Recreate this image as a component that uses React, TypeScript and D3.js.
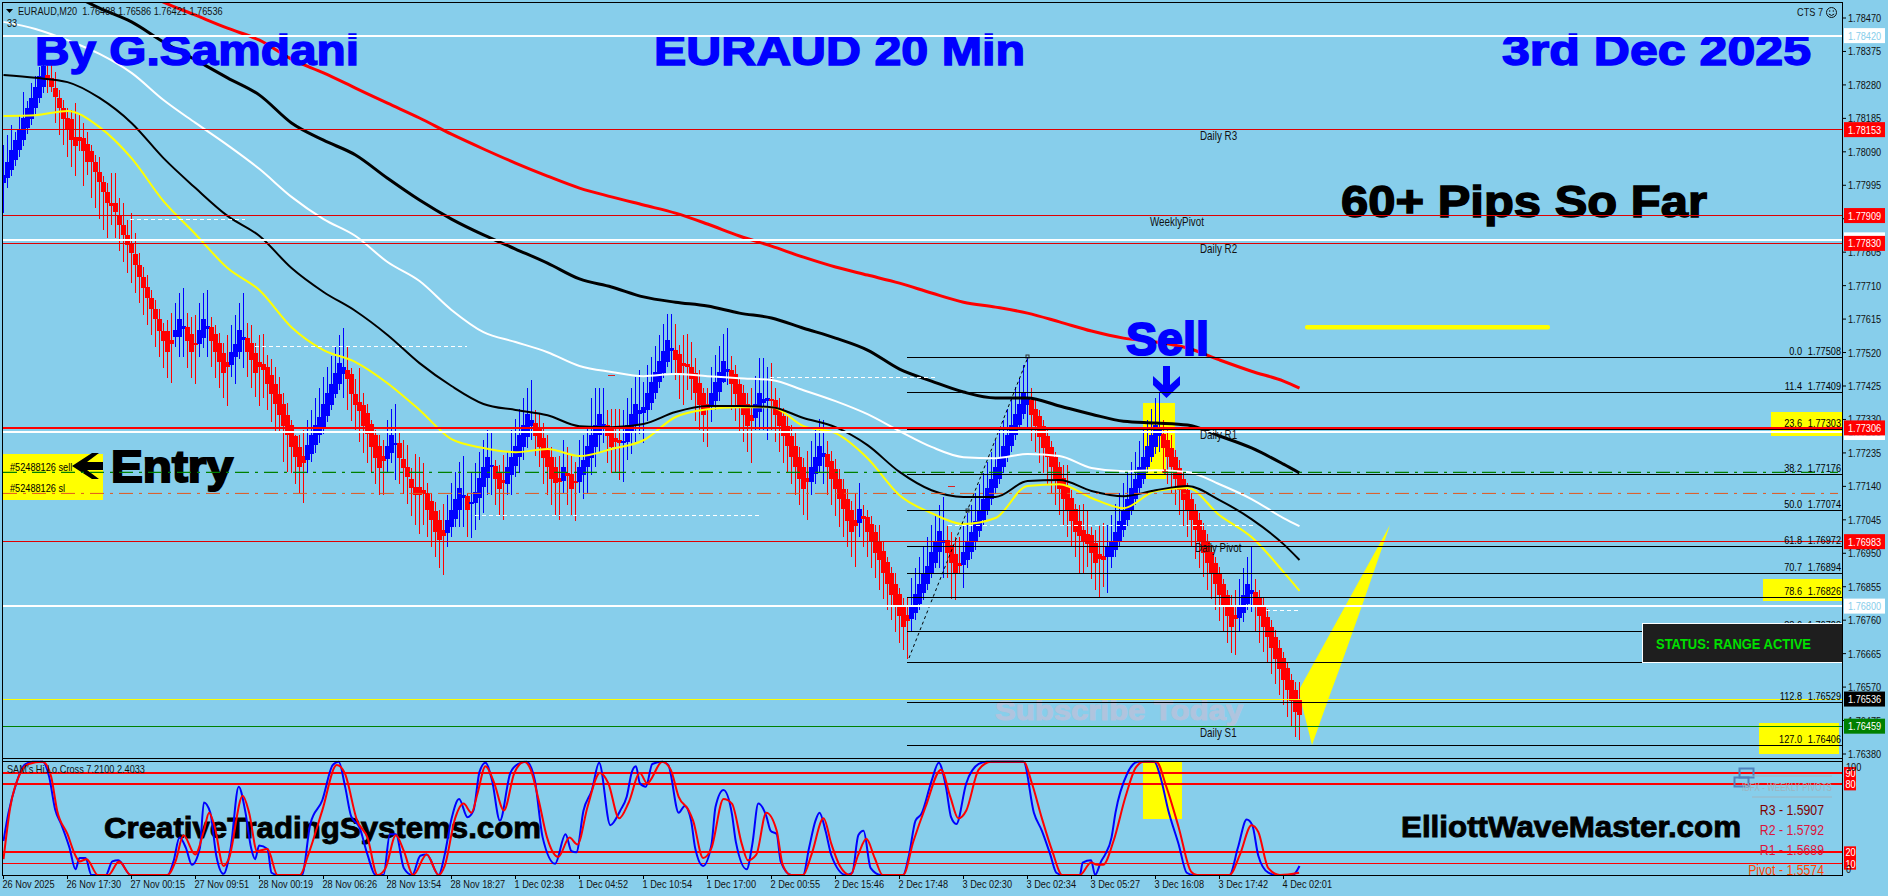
import React from "react";
import * as d3 from "d3";

// All candle prices are in points above 1.70000 (8110 = 1.78110)
const highs = [
8110,8138,8166,8147,8195,8261,8233,8285,8304,8332,8337,8351,8342,8318,8266,8237,8214,8209,8228,8195,
8171,8147,8110,8081,8074,8021,8001,8029,8029,7958,7944,7896,7915,7859,7802,7764,7740,7698,7669,7645,
7603,7612,7631,7660,7688,7702,7631,7622,7627,7660,7688,7699,7622,7598,7575,7546,7570,7598,7627,7660,
7688,7603,7598,7546,7570,7573,7513,7503,7480,7451,7404,7376,7328,7286,7286,7300,7328,7357,7390,7418,
7451,7480,7510,7536,7570,7591,7536,7475,7446,7475,7404,7375,7328,7300,7285,7271,7328,7361,7374,7295,
7271,7257,7191,7231,7224,7205,7150,7120,7096,7072,7089,7115,7150,7181,7210,7226,7120,7181,7205,7238,
7271,7300,7298,7216,7200,7229,7238,7300,7330,7361,7390,7418,7442,7358,7345,7320,7285,7252,7224,7226,
7271,7252,7226,7210,7271,7285,7302,7390,7418,7418,7418,7358,7361,7361,7361,7356,7390,7418,7451,7470,
7437,7485,7508,7539,7570,7601,7630,7630,7601,7542,7570,7573,7551,7504,7471,7418,7418,7480,7513,7539,
7573,7589,7510,7485,7447,7428,7404,7418,7452,7504,7504,7480,7489,7418,7390,7362,7343,7314,7291,7253,
7220,7241,7270,7300,7330,7328,7270,7241,7217,7188,7160,7132,7099,7120,7149,7087,7073,7056,7030,7030,
6983,6940,6912,6893,6850,6822,6827,6879,6907,6938,6969,6997,7030,7061,7087,7109,7027,7011,6997,6997,
7030,7063,7087,7120,7148,7178,7210,7238,7271,7302,7328,7361,7390,7421,7449,7484,7508,7418,7387,7357,
7328,7300,7269,7238,7210,7200,7200,7131,7091,7087,7091,7072,7025,7016,7027,7035,7030,7058,7091,7120,
7150,7178,7210,7238,7269,7300,7328,7361,7390,7404,7328,7304,7285,7243,7214,7181,7150,7120,7091,7063,
7035,7006,6973,6940,6911,6878,6847,6831,6847,6878,6907,6938,6968,6878,6847,6826,6793,6760,6732,6703,
6670,6639,6608,6585,6585];

const bodyHigh = [
8024,8062,8095,8124,8152,8185,8214,8242,8273,8304,8334,8308,8299,8271,8242,8214,8185,8182,8133,8131,
8128,8112,8091,8062,8034,8005,7975,7944,7944,7911,7882,7854,7830,7800,7769,7735,7705,7674,7643,7614,
7582,7582,7556,7584,7614,7595,7593,7573,7548,7584,7614,7595,7593,7573,7548,7520,7493,7522,7544,7584,
7563,7560,7546,7520,7493,7487,7478,7455,7431,7401,7373,7342,7314,7283,7252,7226,7257,7286,7314,7336,
7374,7404,7432,7463,7489,7478,7470,7459,7402,7379,7371,7347,7317,7285,7254,7226,7254,7285,7264,7262,
7219,7194,7162,7139,7139,7131,7122,7098,7070,7044,7017,7044,7074,7103,7134,7115,7112,7097,7124,7163,
7194,7222,7201,7197,7181,7158,7194,7224,7254,7285,7314,7345,7328,7319,7307,7276,7250,7224,7194,7164,
7196,7177,7175,7156,7196,7214,7254,7285,7314,7345,7317,7314,7307,7276,7273,7269,7314,7345,7374,7357,
7364,7404,7435,7465,7496,7525,7556,7533,7527,7516,7489,7487,7478,7461,7433,7404,7374,7404,7435,7465,
7496,7474,7471,7459,7431,7404,7374,7343,7374,7404,7387,7391,7387,7385,7359,7340,7311,7283,7255,7222,
7194,7165,7194,7224,7255,7234,7232,7213,7188,7160,7132,7103,7073,7044,7075,7056,7052,7033,7011,6983,
6957,6926,6893,6864,6834,6803,6775,6798,6834,6864,6893,6914,6954,6983,7014,6988,6989,6973,6948,6921,
6954,6982,7011,7042,7072,7103,7134,7162,7194,7224,7254,7286,7314,7345,7375,7406,7389,7385,7361,7339,
7311,7283,7252,7222,7196,7165,7137,7108,7077,7042,7016,7006,7001,6978,6949,6942,6968,6982,7011,7042,
7072,7103,7134,7162,7194,7224,7254,7286,7314,7300,7290,7273,7248,7222,7191,7162,7131,7103,7074,7044,
7016,6985,6954,6923,6894,6864,6831,6800,6774,6798,6831,6864,6847,6840,6826,6798,6769,6741,6713,6682,
6654,6623,6591,6563,6533];

const bodyLow = [
8001,8015,8038,8067,8095,8124,8157,8182,8214,8242,8273,8294,8273,8245,8214,8182,8154,8124,8107,8122,
8092,8062,8062,8033,8004,7977,7944,7936,7920,7882,7854,7824,7804,7770,7734,7704,7674,7643,7614,7582,
7554,7522,7543,7563,7565,7588,7554,7522,7542,7544,7560,7588,7554,7522,7494,7463,7480,7484,7508,7522,
7556,7522,7499,7463,7480,7470,7432,7402,7373,7344,7311,7286,7252,7224,7196,7207,7215,7231,7257,7286,
7309,7339,7371,7402,7432,7459,7444,7402,7371,7355,7311,7288,7252,7220,7193,7213,7218,7235,7257,7221,
7193,7167,7134,7115,7115,7118,7072,7044,7011,6989,7000,7008,7025,7046,7074,7106,7072,7091,7093,7108,
7137,7165,7194,7161,7132,7150,7146,7172,7197,7224,7252,7281,7311,7283,7252,7221,7194,7162,7150,7152,
7156,7170,7133,7150,7153,7173,7194,7221,7252,7285,7311,7283,7252,7267,7262,7265,7267,7295,7314,7345,
7347,7357,7378,7404,7435,7463,7494,7524,7499,7463,7482,7478,7444,7404,7371,7343,7359,7366,7381,7409,
7435,7465,7431,7402,7371,7343,7311,7327,7333,7352,7378,7383,7383,7343,7311,7283,7255,7222,7194,7160,
7132,7153,7153,7175,7198,7224,7194,7160,7132,7103,7075,7042,7011,7027,7037,7048,7011,6983,6952,6931,
6893,6864,6831,6803,6772,6741,6758,6762,6781,6806,6836,6863,6893,6923,6954,6978,6952,6921,6893,6914,
6917,6932,6954,6985,7014,7044,7074,7103,7134,7162,7194,7224,7254,7285,7314,7345,7371,7342,7311,7281,
7250,7222,7194,7162,7133,7103,7074,7042,7011,7000,6985,6976,6951,6921,6935,6932,6938,6940,6959,6985,
7016,7044,7074,7103,7134,7162,7194,7224,7252,7283,7250,7224,7194,7162,7131,7101,7074,7044,7016,6982,
6951,6923,6893,6862,6831,6800,6771,6741,6762,6767,6779,6807,6834,6800,6771,6741,6713,6682,6651,6620,
6589,6561,6531,6500,6490];

const lows = [
7917,7986,8020,8050,8076,8107,8141,8166,8198,8228,8258,8256,8261,8171,8138,8110,8076,8048,8020,8091,
7993,8024,7958,7930,7898,7868,7844,7882,7844,7809,7778,7747,7718,7688,7660,7627,7598,7570,7537,7508,
7475,7447,7434,7537,7508,7508,7475,7447,7432,7508,7532,7508,7478,7447,7418,7390,7369,7451,7432,7503,
7475,7451,7418,7395,7369,7390,7357,7324,7298,7295,7210,7181,7177,7146,7120,7092,7179,7210,7234,7262,
7290,7323,7356,7390,7415,7390,7356,7326,7300,7267,7235,7207,7178,7148,7115,7115,7181,7205,7158,7146,
7118,7089,7055,7030,7006,7030,6997,6968,6938,6907,6888,6968,6997,7025,7025,7025,6997,6993,7017,7044,
7063,7115,7115,7087,7058,7044,7115,7115,7167,7178,7214,7248,7271,7226,7196,7146,7115,7087,7058,7044,
7120,7087,7058,7042,7120,7104,7120,7172,7196,7238,7262,7205,7177,7177,7158,7153,7214,7233,7267,7290,
7262,7327,7357,7387,7418,7447,7480,7463,7442,7387,7371,7414,7385,7327,7300,7267,7253,7324,7357,7383,
7433,7428,7357,7327,7298,7267,7239,7207,7300,7300,7300,7272,7300,7267,7239,7207,7177,7147,7115,7087,
7059,7044,7115,7147,7177,7147,7115,7087,7056,7025,6997,6969,6938,6912,6997,6969,6938,6907,6879,6847,
6819,6789,6760,6727,6696,6675,6649,6727,6760,6789,6817,6847,6879,6907,6907,6879,6879,6819,6817,6893,
6850,6907,6935,6959,6997,7027,7058,7087,7118,7148,7178,7210,7238,7271,7300,7330,7300,7269,7238,7207,
7177,7148,7118,7087,7058,7030,6997,6968,6940,6893,6891,6911,6878,6847,6824,6853,6838,6907,6940,6968,
6997,7027,7058,7087,7118,7148,7177,7210,7233,7238,7177,7148,7120,7087,7058,7027,6997,6968,6935,6907,
6883,6847,6819,6788,6758,6727,6696,6667,6660,6727,6755,6788,6784,6727,6696,6670,6637,6607,6578,6547,
6518,6485,6457,6428,6419];

// Alternating runs of rising / falling bars, beginning with rising
const directionRuns = [11,32,3,3,3,5,4,15,10,10,3,12,5,1,6,3,7,7,1,3,7,4,13,9,5,6,4,10,4,8,1,12,9,4,17,19,14,19,4,12];

// Moving averages, one reading every 8 bars and the last bar
const ma200Red = [8564,8515,8478,8441,8407,8353,8314,8271,8228,8186,8140,8098,8058,8021,7987,7962,7939,7916,7885,7851,7822,7791,7763,7740,7717,7689,7663,7649,7632,7607,7581,7561,7550,7533,7499,7467,7439,7419];
const maLongBlack = [8544,8498,8459,8402,8351,8300,8251,8172,8123,8081,8015,7953,7899,7854,7814,7774,7729,7706,7678,7663,7652,7632,7618,7589,7561,7527,7473,7439,7408,7391,7391,7368,7345,7325,7320,7314,7283,7249,7203,7178];
const maWhite = [8459,8439,8407,8368,8314,8237,8172,8109,8041,7962,7899,7851,7777,7723,7641,7578,7550,7521,7482,7465,7453,7459,7453,7447,7442,7413,7382,7345,7297,7252,7223,7220,7232,7226,7192,7183,7186,7181,7146,7104,7050,7027];
const maShortBlack = [8308,8300,8288,8243,8172,8072,7987,7908,7851,7760,7692,7638,7570,7490,7425,7374,7357,7342,7311,7308,7317,7351,7368,7368,7365,7334,7308,7257,7181,7129,7110,7110,7155,7158,7127,7112,7129,7141,7101,7047,6976,6931];
const maYellow = [8192,8194,8206,8160,8072,7950,7856,7760,7697,7592,7527,7493,7433,7357,7274,7249,7237,7246,7226,7246,7271,7337,7359,7365,7365,7311,7291,7220,7115,7064,7033,7050,7141,7146,7107,7078,7127,7135,7058,6996,6897,6843];

// Oscillator: bar index and value of each turning point
const stochBlueBars = [0,1.2,3.2,5.2,7.3,9.8,11.4,12.9,14.4,16.5,18,19,20.5,22,25.6,27.2,28.7,31.8,41,42.5,44,45.6,47.1,49.1,50.1,51.7,53.2,55,56.8,58.8,60.4,61.9,62.9,63.9,66,67,68.5,74.6,76.7,79.7,82.3,83.8,85.4,86.9,89,91,93,95,96.6,98.1,100.1,102.2,104.2,105.8,108.8,110.3,111.9,113.9,116,117.5,119,120.5,122.1,124.1,126.7,128.7,130.8,132.8,134.8,137.9,140.5,142,143.2,145,147.1,148.9,151.7,154.2,155.8,157.1,158.1,159.1,160.6,162.2,164.7,166.2,168.8,170.3,171.9,172.9,174.9,177,178,180,182.1,183.1,185.8,187.2,188.7,190.7,191.8,193.3,194.3,196.9,199.9,201.4,203,204,205.5,207,210.6,212.2,213.7,215,216.8,219.3,224.9,226.4,228,229.5,232.1,233.8,235.6,236.9,238.2,240.7,243.8,245.8,255,257.6,259.6,261.7,263.2,264.7,269.1,269.8,271.9,272.9,274.4,275.4,277,278,281,283.6,287.7,289.2,291.2,293.8,295.8,297.4,306.5,308.6,310.8,312.2,313.7,316.2,318.3,322.3,324];
const stochBlueVals = [30,54,81,97,100,100,87,58,45,24,5,15,15,0,0,12,13,0,0,12,33,24,9,24,64,55,17,1,24,78,57,24,14,26,23,2,0,0,45,66,97,100,78,52,42,18,0,0,36,36,6,0,17,18,0,18,48,67,51,57,91,99,84,48,90,98,100,84,33,10,36,21,20,57,75,99,44,57,69,91,96,81,78,98,100,97,55,61,48,24,8,27,60,75,54,29,5,27,63,52,39,36,12,0,0,24,48,55,39,17,0,2,35,39,6,0,0,18,48,54,84,99,78,51,45,81,98,100,100,55,39,18,2,0,0,11,13,0,12,18,33,55,90,100,100,87,57,27,2,0,0,24,49,44,17,2,0,0,8];
const stochRedBars = [0,1.7,4.2,6.3,9.8,11.9,13.4,16,18,19,20.8,23.6,26.2,28.9,31.8,41,43,45,47.9,50.1,51.4,52.7,55,56.3,59.8,61.4,63.4,66,68.5,74.1,76.2,79.7,83.3,85.3,88.4,91,93.5,95.5,98.1,100.1,102.4,105.8,108.8,110.3,112.9,115,117,118.5,120.5,122.6,125.1,127.7,130.2,131.8,133.8,135.9,138.7,141.5,143.5,146,149.1,151.2,153.9,156.3,159.1,160.9,164.7,166.8,168.8,171.3,172.4,174.9,177,180,182.1,184.6,186.1,188.2,190.7,193.3,194.8,196.9,199.9,202,205,207,209.1,211.7,213.7,215.7,217.8,219.8,224.9,227.5,230.5,234.4,236.7,238.7,240.7,243.8,246.9,255,257.1,259.6,262.2,264.7,269.1,271.9,273.4,274.9,277.5,280.5,283.1,285.1,288.2,290.7,293.8,296.9,298.4,306.5,309.1,312,313.7,316.2,319.1,323.9];
const stochRedVals = [14,60,90,98,100,87,57,36,17,12,14,0,0,12,0,0,12,35,18,39,55,44,8,14,70,55,21,23,0,0,18,57,97,90,48,33,0,6,35,21,0,18,0,8,50,63,55,72,96,82,57,90,100,93,66,33,16,33,27,60,90,81,50,64,90,81,100,93,69,57,48,15,24,67,63,27,13,18,55,39,9,0,0,18,50,27,8,0,18,32,15,0,0,30,60,93,69,50,57,93,100,100,81,50,21,0,0,11,9,9,30,69,95,100,100,78,42,3,0,0,18,44,38,6,0,2];

const priceTicks = ["1.78470","1.78375","1.78280","1.78185","1.78090","1.77995","1.77900","1.77805","1.77710","1.77615","1.77520","1.77425","1.77330","1.77235","1.77140","1.77045","1.76950","1.76855","1.76760","1.76665","1.76570","1.76475","1.76380"];
const timeTicks = ["26 Nov 2025","26 Nov 17:30","27 Nov 00:15","27 Nov 09:51","28 Nov 00:19","28 Nov 06:26","28 Nov 13:54","28 Nov 18:27","1 Dec 02:38","1 Dec 04:52","1 Dec 10:54","1 Dec 17:00","2 Dec 00:55","2 Dec 15:46","2 Dec 17:48","3 Dec 02:30","3 Dec 02:34","3 Dec 05:27","3 Dec 16:08","3 Dec 17:42","4 Dec 02:01"];
const fibLevels = ["0.0","11.4","23.6","38.2","50.0","61.8","70.7","78.6","88.6","100.0","112.8","127.0"];
const fibPrices = ["1.77508","1.77409","1.77303","1.77176","1.77074","1.76972","1.76894","1.76826","1.76728","1.76640","1.76529","1.76406"];
const pivotNames = ["Daily R3","WeeklyPivot","Daily R2","Daily R1","Daily Pivot","Daily S1"];
const pivotPrices = [1.78135,1.77891,1.77814,1.77286,1.76965,1.7644];
const weeklyPivots = ["R3 - 1.5907","R2 - 1.5792","R1 - 1.5689","Pivot - 1.5574"];
const redLevelPrices = [1.78153,1.77909,1.7783,1.76983];
const whiteLevelPrices = [1.7842,1.7784,1.77293,1.768];
const stochLevels = [90,80,20,10];

const SKY = "#87CEEB";
const NUM = "'Liberation Sans', Arial, sans-serif";
const W = 1888, H = 896;
const axisX = 1842;

const y = d3.scaleLinear().domain([1.7638, 1.7847]).range([754, 18]);
const yp = (p: number) => y(1.7 + p / 100000);
const x = d3.scaleLinear().domain([0, 324]).range([3.5, 1299.5]);
const ys = d3.scaleLinear().domain([0, 100]).range([875, 761.7]);

const rising: boolean[] = [];
directionRuns.forEach((n, k) => { for (let j = 0; j < n; j++) rising.push(k % 2 === 0); });

function maBars(start: number): number[] {
  return [...d3.range(start, 321, 8), 324];
}
const maPath = (vals: number[], start: number) => {
  const bars = maBars(start);
  return d3.line<number>().x((_, i) => x(bars[i])).y((v) => yp(v)).curve(d3.curveMonotoneX)(vals) || "";
};
const stochPath = (bars: number[], vals: number[]) =>
  d3.line<number>().x((b) => x(b)).y((_, i) => ys(vals[i])).curve(d3.curveMonotoneX)(bars) || "";

function Big(p: { x: number; y: number; len: number; size: number; fill: string; children: string; heavy?: number }) {
  return (
    <text x={p.x} y={p.y} textLength={p.len} lengthAdjust="spacingAndGlyphs" fontFamily="'Liberation Sans', Arial, sans-serif"
      fontWeight="bold" fontSize={p.size} fill={p.fill} stroke={p.fill} strokeWidth={p.heavy ?? 1.4}>{p.children}</text>
  );
}
function Small(p: { x: number; y: number; anchor?: string; fill?: string; size?: number; sx?: number; children: any }) {
  return (
    <text transform={`translate(${p.x} ${p.y}) scale(${p.sx ?? 0.82} 1)`} textAnchor={p.anchor as any} fontFamily={NUM} fontSize={p.size ?? 11.2} fill={p.fill ?? "#000"}>{p.children}</text>
  );
}
function PriceTag(p: { price: number; label: string; bg: string; fg: string }) {
  const c = y(p.price);
  return (
    <g>
      <rect x={1844} y={c - 7.5} width={41} height={15} fill={p.bg} />
      <Small x={1848} y={c + 4} fill={p.fg}>{p.label}</Small>
    </g>
  );
}

export default function App() {
  const midX = (i: number) => Math.round(x(i) - 0.5);
  return (
    <svg width={W} height={H} viewBox={`0 0 ${W} ${H}`} style={{ position: "absolute", left: 0, top: 0, display: "block", background: SKY }}>
      <defs>
        <clipPath id="mainPane"><rect x={3} y={3} width={axisX - 3} height={755} /></clipPath>
      </defs>

      {/* yellow zones */}
      <rect x={2} y={454} width={101} height={46} fill="#FFFF00" />
      <rect x={1143} y={403} width={32} height={47} fill="#FFFF00" />
      <rect x={1145} y={450} width={21} height={29} fill="#FFFF00" />
      <rect x={1143} y={761} width={39} height={58} fill="#FFFF00" />
      <rect x={1771} y={412} width={71} height={24} fill="#FFFF00" />
      <rect x={1763} y={579} width={79} height={22} fill="#FFFF00" />
      <rect x={1759} y={723} width={80} height={31} fill="#FFFF00" />
      <rect x={1305} y={325} width={245} height={4.5} rx={2} fill="#FFFF00" />
      <path d="M1300 688 L1390 525 L1364 600 L1342 662 L1328 700 L1312 745 L1300 697 Z" fill="#FFFF00" />

      {/* candles */}
      <g clipPath="url(#mainPane)" shapeRendering="crispEdges">
        {highs.map((h, i) => {
          const c = rising[i] ? "#0000FF" : "#FF0000";
          const top = yp(bodyHigh[i]);
          const bot = yp(bodyLow[i]);
          return (
            <g key={i}>
              <rect x={midX(i)} y={yp(h)} width={1} height={yp(lows[i]) - yp(h)} fill={c} />
              <rect x={midX(i) - 2} y={top} width={5} height={Math.max(2, bot - top)} fill={c} />
            </g>
          );
        })}
      </g>

      {/* moving averages */}
      <g clipPath="url(#mainPane)" fill="none" strokeLinejoin="round">
        <path d={maPath(maYellow, 0)} stroke="#FFFF00" strokeWidth={2} />
        <path d={maPath(maShortBlack, 0)} stroke="#000" strokeWidth={2} />
        <path d={maPath(maWhite, 0)} stroke="#FFF" strokeWidth={2} />
        <path d={maPath(maLongBlack, 16)} stroke="#000" strokeWidth={3} />
        <path d={maPath(ma200Red, 32)} stroke="#FF0000" strokeWidth={3} />
      </g>

      {/* short dashed levels */}
      <g stroke="#FFF" strokeWidth={1} strokeDasharray="4 3" shapeRendering="crispEdges">
        <line x1={130} x2={245} y1={219.5} y2={219.5} />
        <line x1={255} x2={467} y1={346.5} y2={346.5} />
        <line x1={475} x2={760} y1={515.5} y2={515.5} />
        <line x1={770} x2={936} y1={377.5} y2={377.5} />
        <line x1={948} x2={1256} y1={525.5} y2={525.5} />
        <line x1={1266} x2={1299} y1={610.5} y2={610.5} />
      </g>
      <line x1={608} x2={615} y1={375.5} y2={375.5} stroke="#D22" />
      <line x1={948} x2={955} y1={486.5} y2={486.5} stroke="#D22" />

      {/* fib anchor line */}
      <line x1={909} y1={658} x2={1028} y2={357} stroke="#000" strokeWidth={1} strokeDasharray="3 3" />
      <rect x={1026} y={355} width={3} height={3} fill="none" stroke="#333" />
      <rect x={966} y={509} width={3} height={3} fill="none" stroke="#333" />

      {/* large captions */}
      <Big x={35} y={65} len={324} size={42} fill="#0000FF">By G.Samdani</Big>
      <Big x={654} y={65} len={371} size={42} fill="#0000FF">EURAUD 20 Min</Big>
      <Big x={1502} y={65} len={309} size={42} fill="#0000FF">3rd Dec 2025</Big>
      <Big x={1341} y={217} len={366} size={44} fill="#000">60+ Pips So Far</Big>
      <Big x={1126} y={355} len={83} size={46} fill="#0000FF" heavy={2}>Sell</Big>
      <Big x={111} y={482} len={122} size={44} fill="#000" heavy={2}>Entry</Big>
      <Big x={995} y={720} len={248} size={28} fill="#B0C4DE" heavy={1}>Subscribe Today</Big>

      <path d="M72 466 L92 453 L99 453 L87 462 L103 462 L103 470 L87 470 L99 479 L92 479 Z" fill="#000" />
      <path d="M1163 366 L1170 366 L1170 385 L1180 376 L1180 385 L1166.5 398 L1153 385 L1153 376 L1163 385 Z" fill="#0000FF" />
      <path d="M1165 469 v6 M1162 472 h6" stroke="#F00" strokeWidth={1.5} />

      <Small x={10} y={471}>#52488126 sell</Small>
      <Small x={10} y={492}>#52488126 sl</Small>

      {/* horizontal levels */}
      <g shapeRendering="crispEdges">
        {fibPrices.map((p) => (
          <line key={p} x1={907} x2={axisX} y1={y(+p) + 0.5} y2={y(+p) + 0.5} stroke="#000" strokeWidth={1} />
        ))}
        {redLevelPrices.map((p) => (
          <line key={p} x1={3} x2={axisX} y1={y(p)} y2={y(p)} stroke="#E00000" strokeWidth={1} />
        ))}
        <line x1={3} x2={axisX} y1={y(1.77306)} y2={y(1.77306)} stroke="#FF0000" strokeWidth={2} />
        {whiteLevelPrices.map((p) => (
          <line key={p} x1={3} x2={axisX} y1={y(p)} y2={y(p)} stroke="#FFF" strokeWidth={2} />
        ))}
        <line x1={3} x2={axisX} y1={y(1.76536)} y2={y(1.76536)} stroke="#FFFF00" strokeWidth={1} />
        <line x1={3} x2={axisX} y1={y(1.76459)} y2={y(1.76459)} stroke="#008000" strokeWidth={1} />
      </g>
      <line x1={3} x2={1838} y1={y(1.7718)} y2={y(1.7718)} stroke="#008000" strokeWidth={1.2} strokeDasharray="14 6 3 6" />
      <line x1={3} x2={1838} y1={y(1.7712)} y2={y(1.7712)} stroke="#E2571E" strokeWidth={1} strokeDasharray="14 6 3 6" />

      {/* pivot names */}
      {pivotNames.map((n, i) => (
        <Small key={n} x={n === "WeeklyPivot" ? 1150 : n === "Daily Pivot" ? 1195 : 1200} y={y(pivotPrices[i]) + 4} fill="#111" size={12}>{n}</Small>
      ))}

      {/* fib captions */}
      {fibLevels.map((l, i) => (
        <g key={l}>
          <Small x={1802} y={y(+fibPrices[i]) - 2} anchor="end">{l}</Small>
          <Small x={1841} y={y(+fibPrices[i]) - 2} anchor="end">{fibPrices[i]}</Small>
        </g>
      ))}

      {/* status panel */}
      <rect x={1642.5} y={623.5} width={200} height={39} fill="#1E1E1E" stroke="#FFF" strokeWidth={1} />
      <text x={1656} y={649} textLength={155} lengthAdjust="spacingAndGlyphs" fontFamily="'Liberation Sans', Arial, sans-serif" fontWeight="bold" fontSize={14} fill="#00E000">STATUS: RANGE ACTIVE</text>

      {/* chart header */}
      <path d="M6 9 L13 9 L9.5 13 Z" fill="#000" />
      <Small x={18} y={15} fill="#111">{"EURAUD,M20\u00A0\u00A01.76488 1.76586 1.76421 1.76536"}</Small>
      <Small x={7} y={27} fill="#111">33</Small>
      <Small x={1797} y={16} fill="#111">CTS 7</Small>
      <circle cx={1831.5} cy={12.5} r={5} fill="none" stroke="#111" />
      <circle cx={1829.7} cy={11} r={0.7} fill="#111" />
      <circle cx={1833.3} cy={11} r={0.7} fill="#111" />
      <path d="M1828.8 14 Q1831.5 17 1834.2 14" fill="none" stroke="#111" />

      {/* price axis */}
      {priceTicks.map((t) => (
        <g key={t}>
          <line x1={axisX} x2={axisX + 4} y1={y(+t)} y2={y(+t)} stroke="#000" />
          <Small x={1848} y={y(+t) + 4} fill="#111">{t}</Small>
        </g>
      ))}
      <PriceTag price={1.7842} label="1.78420" bg="#FFF" fg="#87CEEB" />
      <PriceTag price={1.78153} label="1.78153" bg="#FF0000" fg="#FFF" />
      <PriceTag price={1.77909} label="1.77909" bg="#FF0000" fg="#FFF" />
      <PriceTag price={1.7784} label="1.77840" bg="#FFF" fg="#87CEEB" />
      <PriceTag price={1.7783} label="1.77830" bg="#FF0000" fg="#FFF" />
      <PriceTag price={1.77293} label="1.77293" bg="#FFF" fg="#87CEEB" />
      <PriceTag price={1.77306} label="1.77306" bg="#FF0000" fg="#FFF" />
      <PriceTag price={1.76983} label="1.76983" bg="#FF0000" fg="#FFF" />
      <PriceTag price={1.768} label="1.76800" bg="#FFF" fg="#87CEEB" />
      <PriceTag price={1.76536} label="1.76536" bg="#000" fg="#FFF" />
      <PriceTag price={1.76459} label="1.76459" bg="#008000" fg="#FFF" />

      {/* oscillator pane */}
      <Big x={104} y={838} len={437} size={30} fill="#000" heavy={0.9}>CreativeTradingSystems.com</Big>
      <g shapeRendering="crispEdges">
        {stochLevels.map((v) => (
          <line key={v} x1={3} x2={axisX} y1={ys(v)} y2={ys(v)} stroke="#FF0000" strokeWidth={v === 80 || v === 20 ? 2 : 1.5} />
        ))}
      </g>
      <path d={stochPath(stochBlueBars, stochBlueVals)} fill="none" stroke="#0000FF" strokeWidth={2} />
      <path d={stochPath(stochRedBars, stochRedVals)} fill="none" stroke="#FF0000" strokeWidth={2} />
      <Small x={7} y={773} fill="#111">SAM's Hi.Lo.Cross 7.2100 2.4033</Small>

      <Big x={1401} y={837} len={340} size={30} fill="#000" heavy={0.9}>ElliottWaveMaster.com</Big>

      {/* weekly pivots block */}
      <rect x={1739.5} y={768.5} width={14} height={9} fill="none" stroke="#4F81BD" strokeWidth={2} />
      <rect x={1734.5} y={777.5} width={14} height={9} fill="none" stroke="#4F81BD" strokeWidth={2} />
      <line x1={1752} x2={1832} y1={776} y2={776} stroke="#9DB4C0" />
      <line x1={1752} x2={1832} y1={797} y2={797} stroke="#9DB4C0" />
      <text x={1742} y={791} textLength={90} lengthAdjust="spacingAndGlyphs" fontFamily="'Liberation Sans', Arial, sans-serif" fontSize={11} fill="#9DB4C0">IBFX - WEEKLY PIVOTS</text>
      {weeklyPivots.map((t, i) => (
        <Small key={t} x={1824} y={815 + i * 20} anchor="end" size={15} sx={0.82}
          fill={["#800000", "#DC143C", "#DC143C", "#FF4500"][i]}>{t}</Small>
      ))}

      {stochLevels.map((v) => (
        <g key={v}>
          <rect x={1844} y={ys(v) - 6} width={12} height={12} fill="#FF0000" />
          <Small x={1845.5} y={ys(v) + 4} fill="#FFF">{v}</Small>
        </g>
      ))}
      <Small x={1846} y={771} fill="#111">100</Small>
      <Small x={1846} y={873} fill="#111">0</Small>

      {/* time axis */}
      {timeTicks.map((t, i) => {
        const tx = x(i * 16);
        return (
          <g key={t}>
            <line x1={tx} x2={tx} y1={875} y2={879} stroke="#000" />
            <Small x={tx - 1} y={888} fill="#111">{t}</Small>
          </g>
        );
      })}

      {/* frame */}
      <g stroke="#000" strokeWidth={1} fill="none" shapeRendering="crispEdges">
        <line x1={2.5} x2={2.5} y1={2} y2={875} />
        <line x1={2} x2={axisX + 0.5} y1={2.5} y2={2.5} />
        <line x1={axisX + 0.5} x2={axisX + 0.5} y1={2} y2={875} />
        <line x1={2} x2={axisX + 0.5} y1={758.5} y2={758.5} />
        <line x1={2} x2={axisX + 0.5} y1={761.5} y2={761.5} />
        <line x1={2} x2={axisX + 0.5} y1={875.5} y2={875.5} />
      </g>
    </svg>
  );
}
